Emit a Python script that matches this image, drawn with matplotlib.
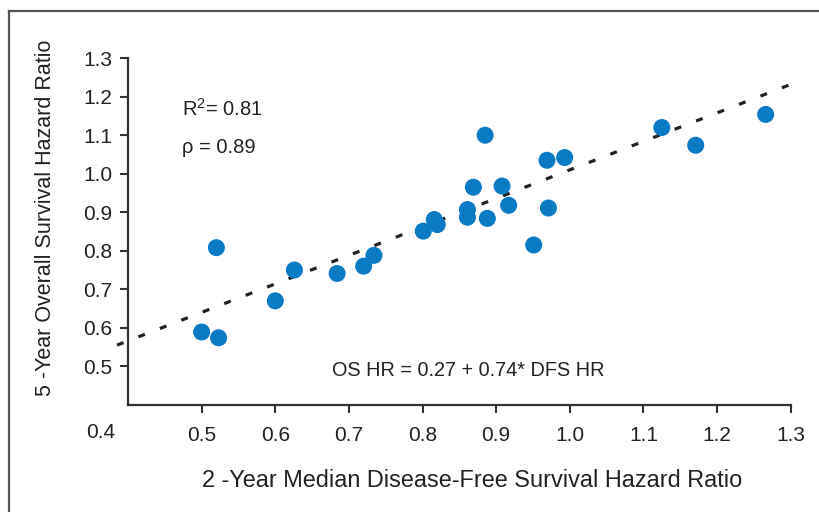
# scatter of OS HR vs DFS HR with regression line

import numpy
import matplotlib
matplotlib.use("Agg")
import matplotlib.pyplot as plt

# data
dfs_hr = [0.500, 0.523, 0.520, 0.600, 0.626, 0.684, 0.720, 0.734, 0.801, 0.820,
          0.816, 0.861, 0.861, 0.888, 0.869, 0.885, 0.908, 0.917, 0.951, 0.971,
          0.969, 0.993, 1.125, 1.171, 1.266]
os_hr = [0.589, 0.574, 0.808, 0.670, 0.750, 0.741, 0.760, 0.788, 0.851, 0.868,
         0.881, 0.887, 0.907, 0.884, 0.965, 1.100, 0.968, 0.918, 0.815, 0.911,
         1.035, 1.042, 1.120, 1.074, 1.154]
intercept = 0.27
slope = 0.74
x_ticks = [0.5, 0.6, 0.7, 0.8, 0.9, 1.0, 1.1, 1.2, 1.3]
y_ticks = [0.5, 0.6, 0.7, 0.8, 0.9, 1.0, 1.1, 1.2, 1.3]

plt.rcParams["font.family"] = ["Liberation Sans", "DejaVu Sans"]
text_color = "#222222"

fig = plt.figure(figsize=(8.19, 5.12), dpi=100)
ax = fig.add_axes([128 / 819, 1 - 404.8 / 512, 662.7 / 819, 346.6 / 512])

ax.scatter(dfs_hr, os_hr, s=150, color="#0a7ac4", edgecolors="none", zorder=3)

# regression line, runs a little past the axes on both ends
line_x = numpy.array([0.385, 1.313])
ax.plot(line_x, intercept + slope * line_x, color="#222222", linewidth=2.3,
        linestyle=(0, (2.2, 5)), clip_on=False, zorder=2)

ax.set_xlim(0.4, 1.3)
ax.set_ylim(0.4, 1.3)
ax.set_xticks(x_ticks)
ax.set_yticks(y_ticks)
ax.set_xticklabels(["%.1f" % v for v in x_ticks])
ax.set_yticklabels(["%.1f" % v for v in y_ticks])

for side in ["top", "right"]:
    ax.spines[side].set_visible(False)
for side in ["left", "bottom"]:
    ax.spines[side].set_linewidth(1.6)
    ax.spines[side].set_color("#333333")

ax.tick_params(axis="both", direction="out", length=6, width=1.5, color="#333333",
               labelsize=15, labelcolor=text_color)
ax.tick_params(axis="x", pad=9)
ax.tick_params(axis="y", pad=5)

# lonely 0.4 at the corner
ax.annotate("0.4", xy=(0.4, 0), xycoords=("data", "axes fraction"),
            xytext=(-20, -19.6), textcoords="offset points",
            ha="center", va="center", fontsize=15, color=text_color)

ax.set_xlabel("2 -Year Median Disease-Free Survival Hazard Ratio", fontsize=16.9,
              color=text_color)
ax.xaxis.set_label_coords(0.519, -0.217)
ax.xaxis.label.set_va("center")
ax.set_ylabel("5 -Year Overall Survival Hazard Ratio", fontsize=15.5,
              color=text_color)
ax.yaxis.set_label_coords(-0.125, 0.539)
ax.yaxis.label.set_va("center")

ax.text(0.473, 1.168, r"$\mathregular{R^2}$= 0.81", fontsize=14.5, color=text_color,
        ha="left", va="center")
ax.text(0.473, 1.067, "ρ = 0.89", fontsize=14.5, color=text_color,
        ha="left", va="center")
ax.text(0.862, 0.49, "OS HR = 0.27 + 0.74* DFS HR", fontsize=14.3, color=text_color,
        ha="center", va="center")

# gray frame along left and top of the picture
fig.add_artist(plt.Line2D([8.5 / 819, 8.5 / 819], [0, 1 - 10.7 / 512],
                          transform=fig.transFigure, color="#555555", linewidth=1.6))
fig.add_artist(plt.Line2D([8.5 / 819, 1], [1 - 10.7 / 512, 1 - 10.7 / 512],
                          transform=fig.transFigure, color="#555555", linewidth=1.6))

fig.savefig("out.png", dpi=100)
